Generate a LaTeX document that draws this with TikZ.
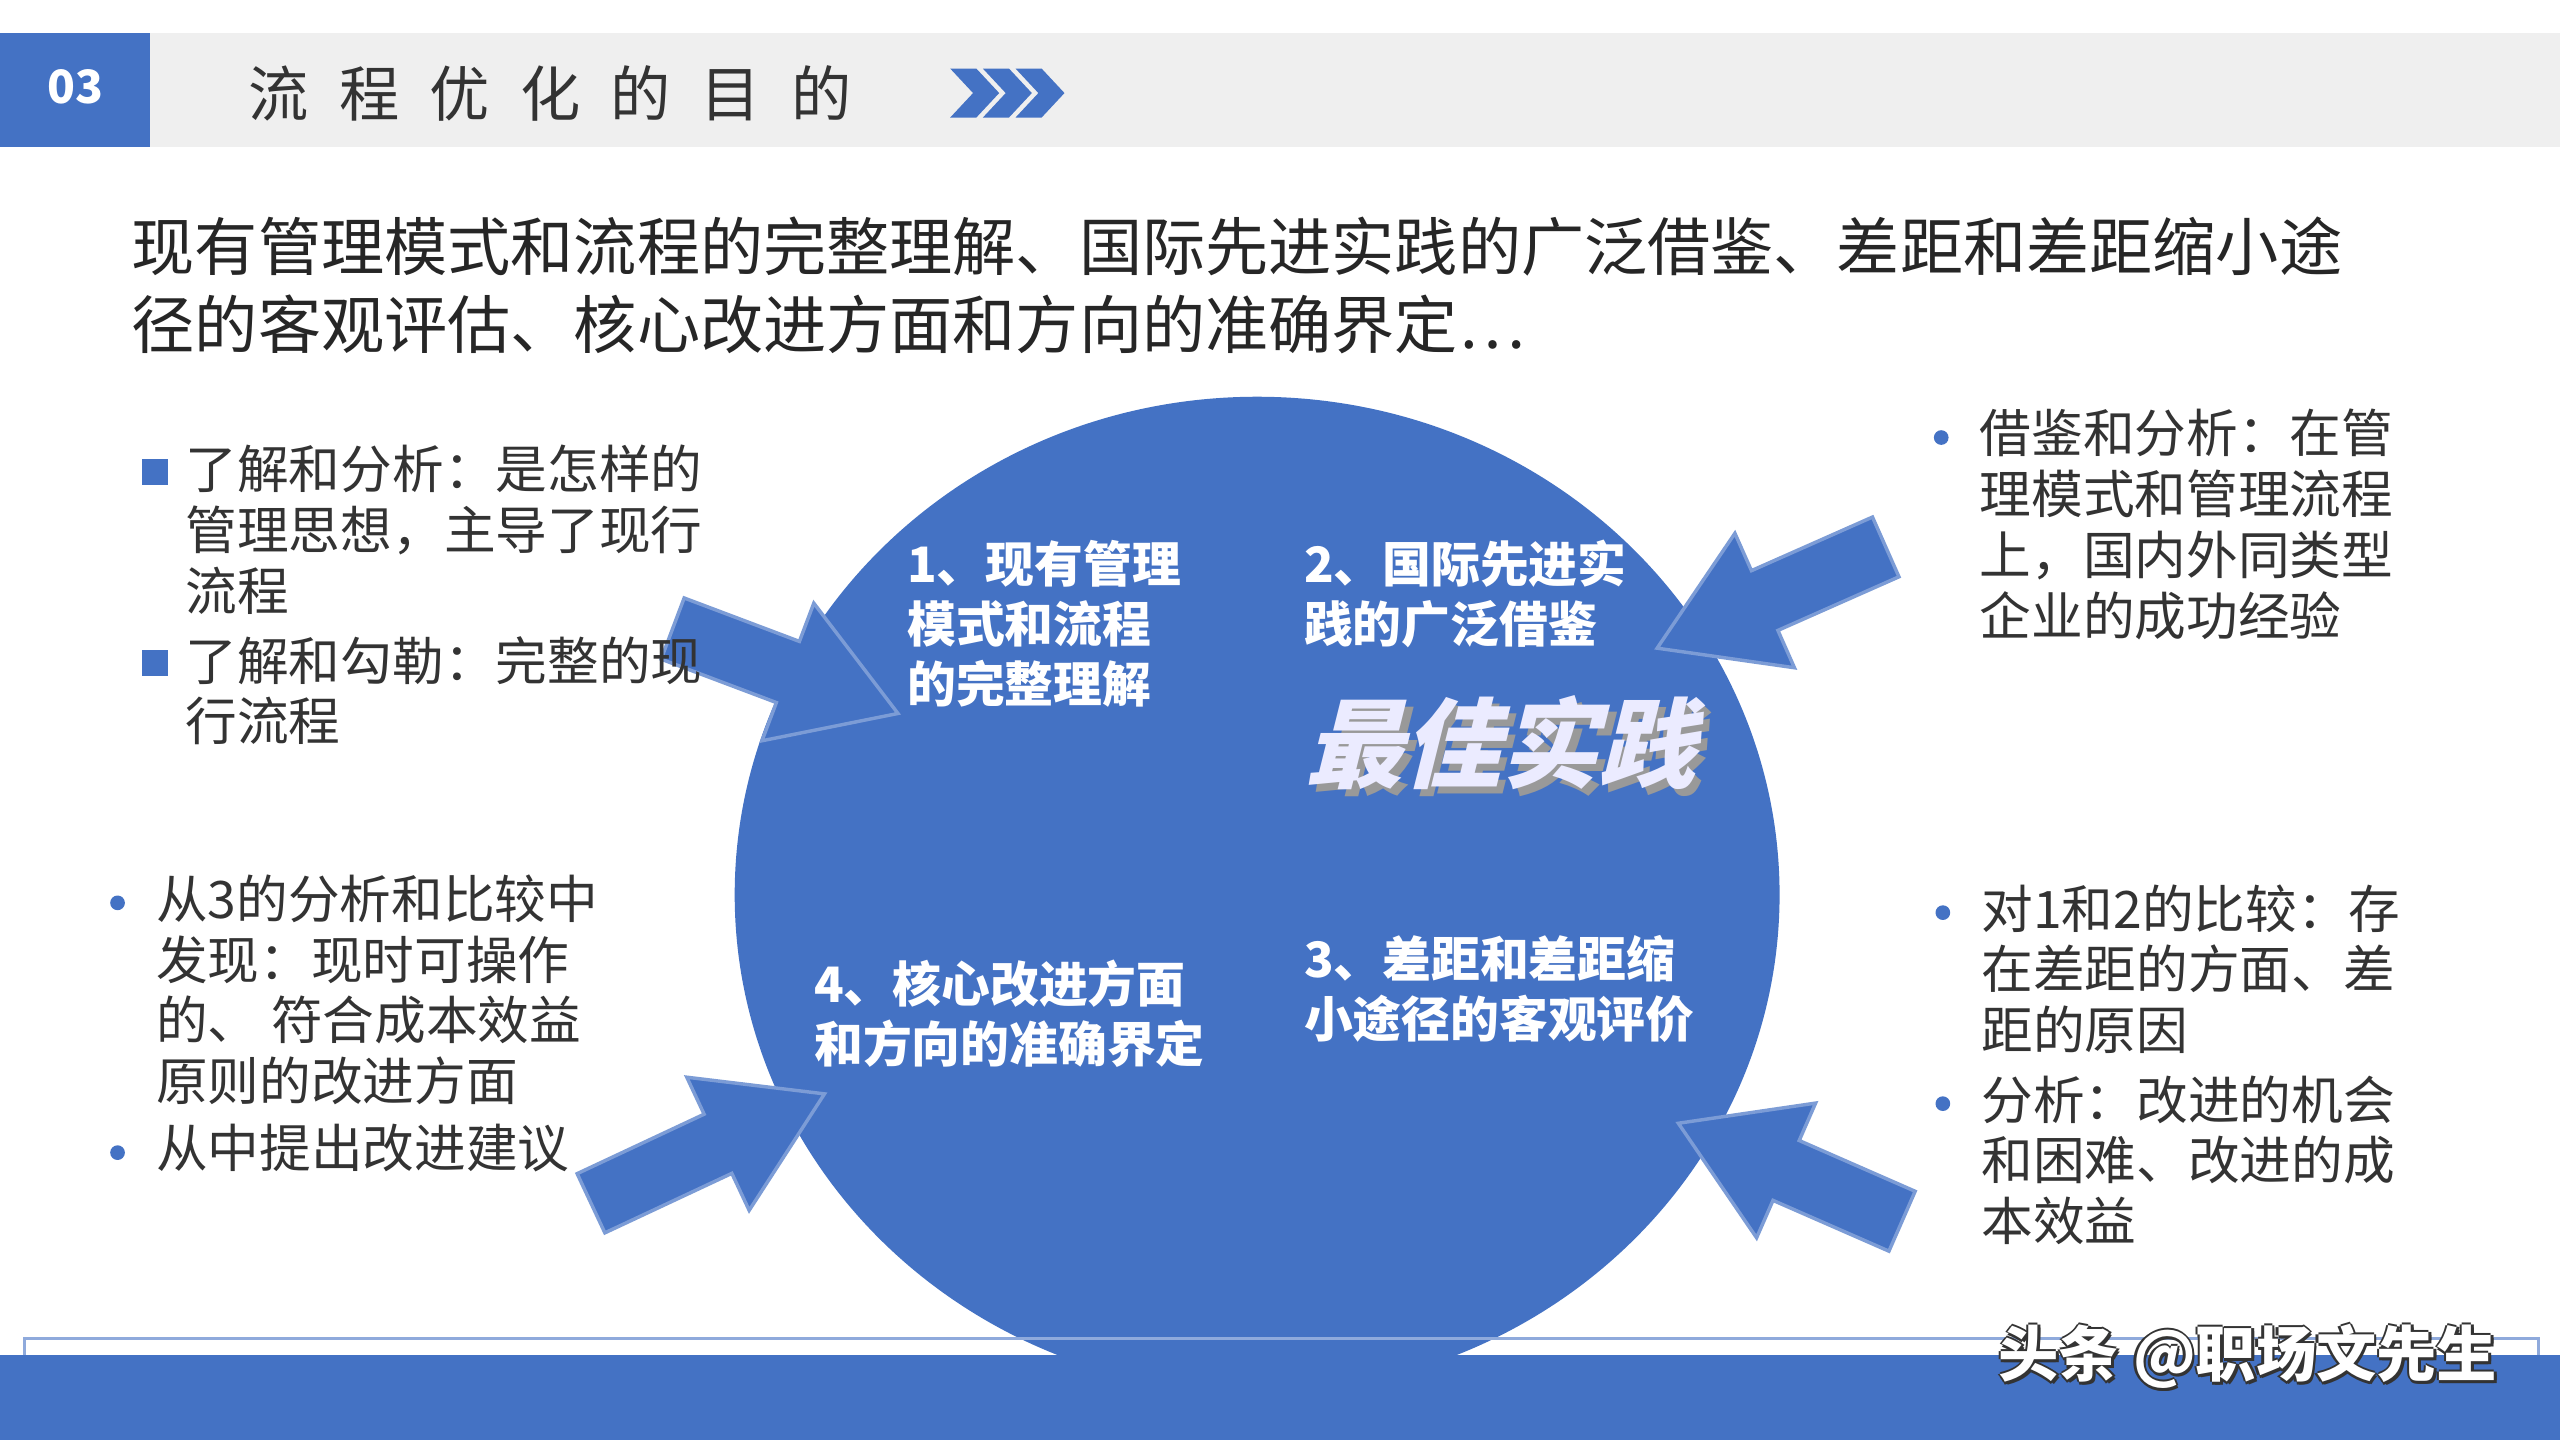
\documentclass[tikz,border=0pt]{standalone}
\usepackage{fontspec}
\setmainfont{Noto Sans CJK SC}
\usetikzlibrary{calc}
\definecolor{mblue}{HTML}{4472C4}
\definecolor{tgray}{HTML}{333333}
\definecolor{bargray}{HTML}{EFEFEF}
\newcommand\blockarrow[3]{%
 \coordinate (s1) at ($(#1)!0.2cm!90:(#2)$);
 \coordinate (s2) at ($(#1)!0.2cm!-90:(#2)$);
 \coordinate (hb) at ($(#2)!0.72cm!(#1)$);
 \coordinate (h1) at ($(hb)!0.2cm!-90:(#2)$);
 \coordinate (h2) at ($(hb)!0.2cm!90:(#2)$);
 \coordinate (w1) at ($(hb)!0.45cm!-90:(#2)$);
 \coordinate (w2) at ($(hb)!0.45cm!90:(#2)$);
 \fill[mblue,draw=#3,line width=0.6pt] (s1) -- (h2) -- (w2) -- (#2) -- (w1) -- (h1) -- (s2) -- cycle;}
\tikzset{body/.style={anchor=north west,text=tgray,font=\fontsize{9pt}{10.6pt}\selectfont,align=left,inner sep=0pt},
 ctext/.style={anchor=north west,text=white,font=\fontsize{8.5pt}{10.5pt}\selectfont\bfseries,align=left,inner sep=0pt}}
\begin{document}
\begin{tikzpicture}[x=0.01cm,y=-0.01cm]
\useasboundingbox (0,0) rectangle (1568,882);
\fill[white] (0,0) rectangle (1568,882);
\fill[bargray] (0,20) rectangle (1568,90);
\fill[mblue] (0,20) rectangle (92,90);
\node[text=white,font=\fontsize{8pt}{8pt}\selectfont\bfseries] (num) at (46,53) {03};
\node[anchor=west,text=tgray,font=\fontsize{10.5pt}{10.5pt}\selectfont] (title) at (140,57) {流\hspace{0.5em}程\hspace{0.5em}优\hspace{0.5em}化\hspace{0.5em}的\hspace{0.5em}目\hspace{0.5em}的};
\foreach \dx in {0,20,40}{\fill[mblue] (582+\dx,42)--(598+\dx,42)--(612+\dx,57)--(598+\dx,72)--(582+\dx,72)--(596+\dx,57)--cycle;}
\node[anchor=north west,text=black!85,font=\fontsize{11pt}{13.6pt}\selectfont,align=left,inner sep=0pt] (main) at (80,132) {现有管理模式和流程的完整理解、国际先进实践的广泛借鉴、差距和差距缩小途\\径的客观评估、核心改进方面和方向的准确界定…};
% circle
\fill[mblue] (770,548) ellipse (320 and 305);
\node[ctext] (c1) at (555,330) {1、现有管理\\模式和流程\\的完整理解};
\node[ctext] (c2) at (798,330) {2、国际先进实\\践的广泛借鉴};
\node[ctext] (c3) at (798,572) {3、差距和差距缩\\小途径的客观评价};
\node[ctext] (c4) at (498,587) {4、核心改进方面\\和方向的准确界定};
\node[text=black!40,font=\fontsize{17pt}{17pt}\selectfont\bfseries,xslant=0.25] at (929,459) {最佳实践};
\node[text=white!92!blue,font=\fontsize{17pt}{17pt}\selectfont\bfseries,xslant=0.25] (best) at (925,455) {最佳实践};
% arrows
\coordinate (a1s) at (412,385); \coordinate (a1e) at (550,437);
\coordinate (a2s) at (1155,335); \coordinate (a2e) at (1015,397);
\coordinate (a3s) at (362,737); \coordinate (a3e) at (505,670);
\coordinate (a4s) at (1165,748); \coordinate (a4e) at (1028,688);
\blockarrow{a1s}{a1e}{mblue!70!white}
\blockarrow{a2s}{a2e}{mblue!70!white}
\blockarrow{a3s}{a3e}{mblue!70!white}
\blockarrow{a4s}{a4e}{mblue!70!white}
% left top
\fill[mblue] (87,281) rectangle (103,297);
\fill[mblue] (87,398) rectangle (103,414);
\node[body] (l1) at (113,272) {了解和分析：是怎样的\\管理思想，主导了现行\\流程};
\node[body] (l2) at (113,389) {了解和勾勒：完整的现\\行流程};
% left bottom
\fill[mblue] (72,553) circle (4.5);
\fill[mblue] (72,706) circle (4.5);
\node[body] (l3) at (95,535) {从3的分析和比较中\\发现：现时可操作\\的、 符合成本效益\\原则的改进方面};
\node[body] (l4) at (95,688) {从中提出改进建议};
% right
\fill[mblue] (1189,268) circle (4.5);
\node[body] (r1) at (1212,250) {借鉴和分析：在管\\理模式和管理流程\\上，国内外同类型\\企业的成功经验};
\fill[mblue] (1190,559) circle (4.5);
\fill[mblue] (1190,676) circle (4.5);
\node[body] (r2) at (1213,541) {对1和2的比较：存\\在差距的方面、差\\距的原因};
\node[body] (r3) at (1213,658) {分析：改进的机会\\和困难、改进的成\\本效益};
% bottom
\draw[mblue!60,line width=0.5pt] (15,820) rectangle (1555,860);
\fill[mblue] (0,830) rectangle (1568,882);
\foreach \ox/\oy in {-1.5/0,1.5/0,0/-1.5,0/1.5,1.5/1.5}{
\node[anchor=east,text=black!80,font=\fontsize{10.5pt}{10.5pt}\selectfont\bfseries] at (1542+\ox,831+\oy) {头条 @职场文先生};}
\node[anchor=east,text=white,font=\fontsize{10.5pt}{10.5pt}\selectfont\bfseries] (wm) at (1542,831) {头条 @职场文先生};
\end{tikzpicture}
\end{document}
